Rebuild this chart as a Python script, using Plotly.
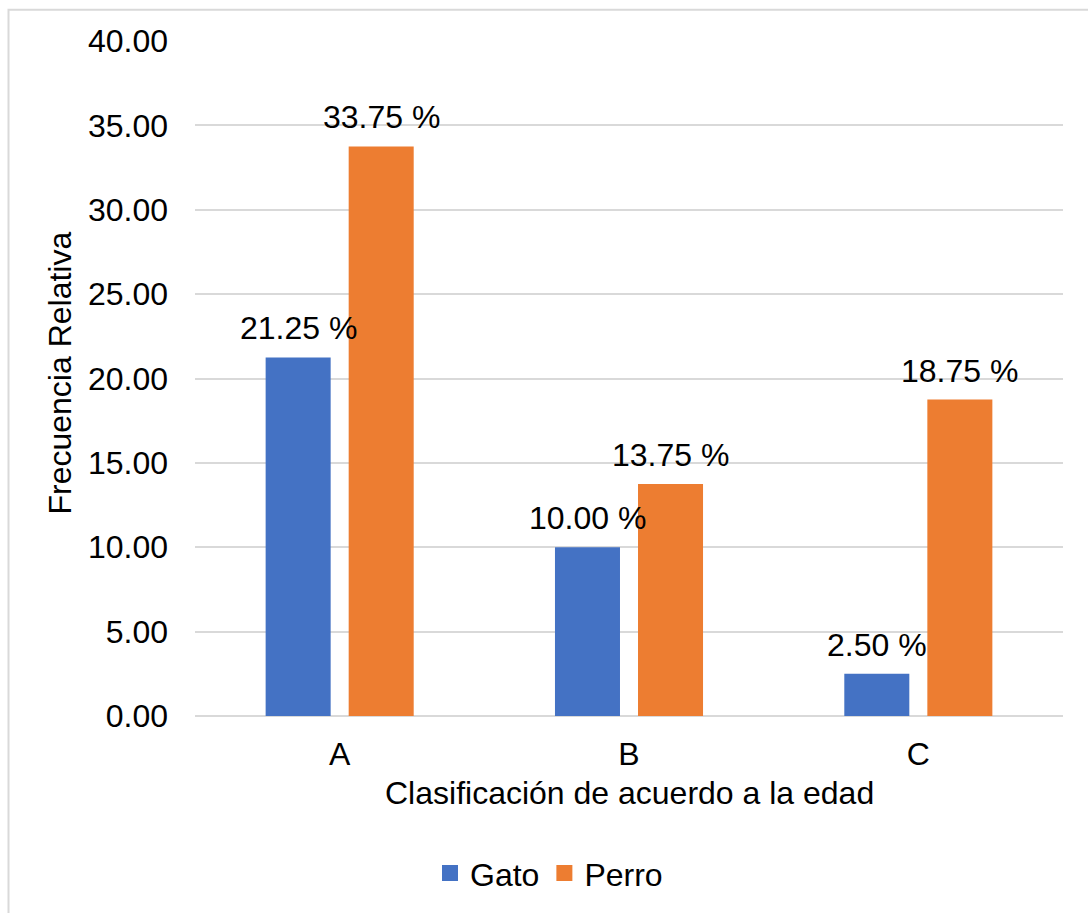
import plotly.graph_objects as go

categories = ["A", "B", "C"]
gato = [21.25, 10.00, 2.50]
perro = [33.75, 13.75, 18.75]
series_names = ["Gato", "Perro"]
colors = ["#4472C4", "#ED7D31"]
y_ticks = [0, 5, 10, 15, 20, 25, 30, 35, 40]

W, H = 1088, 913
ML, MR, MT, MB = 195, 25, 41, 194
PW = W - ML - MR
PH = H - MT - MB
FONT = "Arial, 'Liberation Sans', sans-serif"
FS = 32

fig = go.Figure()
for name, vals, col in zip(series_names, [gato, perro], colors):
    fig.add_trace(go.Bar(
        x=categories, y=vals, name=name, marker_color=col,
        marker_line_width=0, showlegend=False,
    ))
    # legend proxy
    fig.add_trace(go.Scatter(
        x=[None], y=[None], mode="markers", name=name,
        marker=dict(symbol="square", size=16, color=col),
        showlegend=True,
    ))

# data labels
bargap = 0.426
bargroupgap = 0.217
cat_px = PW / len(categories)
slot = cat_px * (1 - bargap) / 2
annotations = []
for i, (vals) in enumerate([gato, perro]):
    off = (i - 0.5) * slot
    for c, v in zip(categories, vals):
        annotations.append(dict(
            x=c, y=v, xref="x", yref="y", text=f"{v:.2f} %",
            showarrow=False, xshift=off, yanchor="bottom", yshift=9,
            font=dict(family=FONT, size=FS, color="#000000"),
        ))

# y-axis title
annotations.append(dict(
    x=(60 - ML) / PW, y=(MT + PH - 375) / PH, xref="paper", yref="paper",
    text="Frecuencia Relativa", textangle=-90, showarrow=False,
    xanchor="center", yanchor="middle",
    font=dict(family=FONT, size=FS, color="#000000"),
))
# x-axis title
annotations.append(dict(
    x=0.5, y=(MT + PH - 796) / PH, xref="paper", yref="paper",
    text="Clasificación de acuerdo a la edad", showarrow=False,
    xanchor="center", yanchor="middle",
    font=dict(family=FONT, size=FS, color="#000000"),
))

# outer frame
shapes = [dict(
    type="rect", xref="paper", yref="paper",
    x0=(8.5 - ML) / PW, x1=(W + 20 - ML) / PW,
    y0=(MT + PH - (H + 20)) / PH, y1=(MT + PH - 9.5) / PH,
    line=dict(color="#d9d9d9", width=2), fillcolor="rgba(0,0,0,0)",
    layer="below",
)]

fig.update_layout(
    width=W, height=H,
    margin=dict(l=ML, r=MR, t=MT, b=MB, pad=0),
    paper_bgcolor="white", plot_bgcolor="white",
    barmode="group", bargap=bargap, bargroupgap=bargroupgap,
    font=dict(family=FONT, size=FS, color="#000000"),
    showlegend=True,
    legend=dict(
        orientation="h", x=(549 - ML) / PW, xanchor="center",
        y=(MT + PH - 877) / PH, yanchor="middle",
        font=dict(family=FONT, size=FS, color="#000000"),
        bgcolor="rgba(0,0,0,0)", itemsizing="trace",
    ),
    annotations=annotations,
    shapes=shapes,
)
fig.update_yaxes(
    range=[0, 40], tickvals=y_ticks, tickformat=".2f",
    showgrid=True, gridcolor="#d9d9d9", gridwidth=1.5,
    zeroline=True, zerolinecolor="#d9d9d9", zerolinewidth=1.5,
    showline=False, ticks="", ticklabelstandoff=26,
    tickfont=dict(family=FONT, size=FS, color="#000000"),
    fixedrange=True,
)
fig.update_xaxes(
    showgrid=False, showline=False, ticks="", ticklabelstandoff=16,
    tickfont=dict(family=FONT, size=FS, color="#000000"),
    fixedrange=True,
)

fig.write_html("out.html")
